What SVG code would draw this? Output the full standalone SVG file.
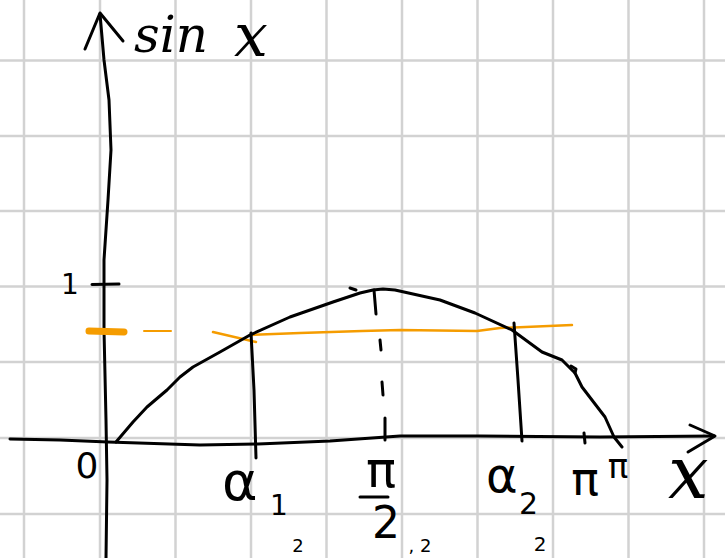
<svg xmlns="http://www.w3.org/2000/svg" width="725" height="558" viewBox="0 0 725 558">
<style>
.grid line{stroke:#d2d2d2;stroke-width:2.5}
.ink{fill:none;stroke:#000;stroke-width:3;stroke-linecap:round;stroke-linejoin:round}
.or{fill:none;stroke:#f59c00;stroke-linecap:round;stroke-linejoin:round}
.t{fill:#000;font-family:"DejaVu Sans",sans-serif}
.s{fill:#000;font-family:"DejaVu Serif",serif;font-style:italic}
</style>
<rect width="725" height="558" fill="#fff"/>
<g class="grid" id="grid">
<line x1="24" y1="0" x2="24" y2="558"/><line x1="100" y1="0" x2="100" y2="558"/>
<line x1="175.5" y1="0" x2="175.5" y2="558"/><line x1="251" y1="0" x2="251" y2="558"/>
<line x1="326.5" y1="0" x2="326.5" y2="558"/><line x1="402" y1="0" x2="402" y2="558"/>
<line x1="477.5" y1="0" x2="477.5" y2="558"/><line x1="553" y1="0" x2="553" y2="558"/>
<line x1="628.5" y1="0" x2="628.5" y2="558"/><line x1="704" y1="0" x2="704" y2="558"/>
<line x1="0" y1="60.5" x2="725" y2="60.5"/><line x1="0" y1="136" x2="725" y2="136"/>
<line x1="0" y1="211" x2="725" y2="211"/><line x1="0" y1="286.5" x2="725" y2="286.5"/>
<line x1="0" y1="362" x2="725" y2="362"/><line x1="0" y1="438" x2="725" y2="438"/>
<line x1="0" y1="514" x2="725" y2="514"/>
</g>
<g id="connectors">
<g id="y-axis">
<path class="ink" d="M106 558 L107 480 L106 420 L104 330 L104 260 L108 200 L111 150 L109 100 L104 60 L100 14"/>
<path class="ink" stroke-width="4" d="M85 49 L100 13 L123 41"/>
<path class="ink" d="M92 284.5 L119 284"/>
</g>
<g id="x-axis">
<path class="ink" d="M10 439 L60 440 L108 442 L200 445 L258 444 L330 441 L400 436 L480 436 L600 437 L714 436"/>
<path class="ink" stroke-width="4" d="M690 425 L715 436 L688 452"/>
<path class="ink" d="M584 433 L585 443"/>
</g>
<g id="orange-level">
<path class="or" stroke-width="7" d="M89 331 L124 332"/>
<path class="or" stroke-width="2" d="M144 331 L171 331"/>
<path class="or" stroke-width="2.5" d="M213 332 L256 342"/>
<path class="or" stroke-width="2.5" d="M250 335 L300 333 L362 331 L400 330 L477 331 L500 328 L572 325"/>
</g>
<g id="sine-curve">
<path class="ink" d="M116 442 L133 422 L147 407 L167 390 L180 377 L193 367 L220 352 L250 335 L290 317 L333 302 L360 293 L373 290 L383 289 L395 290 L440 300 L475 313 L512 330 L542 352 L562 360 L575 373 L582 387 L605 417 L614 437 L622 447"/>
<path class="ink" stroke-width="1.5" d="M350 288 L356 290"/>
<path class="ink" stroke-width="2" d="M571 366 L576 369 L575 373"/>
</g>
<g id="verticals">
<path class="ink" d="M251 333 L254 390 L256 458"/>
<path class="ink" d="M514 323 L518 380 L522 441"/>
<path class="ink" d="M374 290 L376 314"/>
<path class="ink" stroke-width="2" d="M380 340 L381 350"/>
<path class="ink" stroke-width="2" d="M382 382 L383 395"/>
<path class="ink" stroke-width="2" d="M385 418 L385 440"/>
</g>
</g>
<g id="label-sinx">
<text class="s" x="134" y="52" font-size="50">sin</text>
<text class="s" x="234" y="56" font-size="60">x</text>
</g>
<g id="label-1"><text class="t" x="70" y="294" font-size="28" text-anchor="middle">1</text></g>
<g id="label-0"><text class="t" x="87" y="478" font-size="36" text-anchor="middle">0</text></g>
<g id="label-alpha1">
<text class="t" x="222" y="500" font-size="54">α</text>
<text class="t" x="270" y="515" font-size="28">1</text>
</g>
<g id="label-pi2">
<text class="t" x="381" y="487" font-size="50" text-anchor="middle">π</text>
<path class="ink" d="M360 497 L388 497"/>
<text class="t" x="386" y="538" font-size="44" text-anchor="middle">2</text>
</g>
<g id="label-alpha2">
<text class="t" x="486" y="492" font-size="48">α</text>
<text class="t" x="519" y="514" font-size="30">2</text>
</g>
<g id="label-pi">
<text class="t" x="585" y="495" font-size="46" text-anchor="middle">π</text>
<text class="t" x="618" y="478" font-size="34" text-anchor="middle">π</text>
</g>
<g id="label-x"><text class="s" x="668" y="498" font-size="72">x</text></g>
<g id="bottom-partial">
<text class="t" x="298" y="552" font-size="18" text-anchor="middle">2</text>
<text class="t" x="420" y="552" font-size="18" text-anchor="middle">, 2</text>
<text class="t" x="540" y="551" font-size="20" text-anchor="middle">2</text>
</g>
</svg>
